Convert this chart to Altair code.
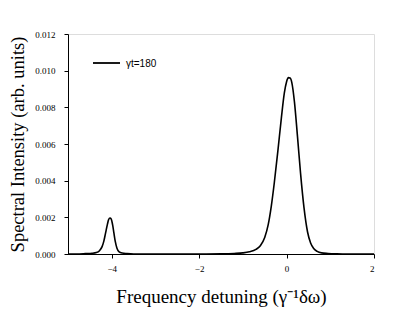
import altair as alt
import pandas as pd

# Frequency detuning values and spectral intensity
detuning = [-5.0, -4.8, -4.6, -4.45, -4.35, -4.28, -4.22, -4.18, -4.14, -4.10, -4.07, -4.04,
            -4.01, -3.98, -3.95, -3.92, -3.88, -3.83, -3.76, -3.65, -3.5, -3.0, -2.5, -2.0,
            -1.5, -1.2, -1.0, -0.85, -0.7, -0.6, -0.5, -0.42, -0.35, -0.28, -0.2, -0.12, -0.05,
            0.0, 0.04, 0.08, 0.12, 0.18, 0.25, 0.32, 0.4, 0.48, 0.55, 0.62, 0.7, 0.8, 0.95,
            1.15, 1.4, 1.7, 2.0]
intensity = [0.0, 0.0, 0.00002, 0.00004, 0.00008, 0.00018, 0.00040, 0.00070, 0.00115, 0.00160,
             0.00188, 0.00196, 0.00190, 0.00160, 0.00115, 0.00070, 0.00032, 0.00012, 0.00005,
             0.00002, 0.0, 0.0, 0.0, 0.0,
             0.00001, 0.00003, 0.00006, 0.00012, 0.00025, 0.00045, 0.00090, 0.00160, 0.00260,
             0.00390, 0.00560, 0.00740, 0.00880, 0.00940, 0.00962, 0.00960, 0.00935, 0.00830,
             0.00640, 0.00440, 0.00250, 0.00120, 0.00060, 0.00030, 0.00014, 0.00006, 0.00003,
             0.00001, 0.0, 0.0, 0.0]

x_ticks = [-4, -2, 0, 2]
y_ticks = [0.0, 0.002, 0.004, 0.006, 0.008, 0.010, 0.012]
legend_label = "γt=180"

df = pd.DataFrame({"x": detuning, "y": intensity})

line = alt.Chart(df).mark_line(color="black", strokeWidth=1.6, interpolate="monotone").encode(
    x=alt.X("x:Q", scale=alt.Scale(domain=[-5, 2], nice=False, zero=False),
            axis=alt.Axis(values=x_ticks, format="d", title="Frequency detuning (γ⁻¹δω)",
                          titleFont="Liberation Serif", titleFontSize=19, titleFontWeight="normal",
                          titleColor="black", titlePadding=14,
                          labelFont="Liberation Serif", labelFontSize=9, labelColor="black",
                          labelPadding=6, tickSize=4, tickColor="black", domainColor="black",
                          grid=False)),
    y=alt.Y("y:Q", scale=alt.Scale(domain=[0, 0.012], nice=False),
            axis=alt.Axis(values=y_ticks, format=".3f", title="Spectral Intensity (arb. units)",
                          titleFont="Liberation Serif", titleFontSize=18.5, titleFontWeight="normal",
                          titleColor="black", titlePadding=7,
                          labelFont="Liberation Serif", labelFontSize=9, labelColor="black",
                          labelPadding=9, tickSize=4, tickColor="black", domainColor="black",
                          grid=False)),
)

leg_df = pd.DataFrame({"label": [legend_label]})
leg_line = alt.Chart(leg_df).mark_rule(color="black", strokeWidth=1.8).encode(
    x=alt.value(25), x2=alt.value(52), y=alt.value(29)
)
leg_text = alt.Chart(leg_df).mark_text(align="left", baseline="middle", font="Liberation Sans",
                                       fontSize=10, color="black").encode(
    x=alt.value(58), y=alt.value(30), text="label:N"
)

chart = alt.layer(line, leg_line, leg_text).properties(
    width=306, height=220,
    autosize=alt.AutoSizeParams(type="none"),
    padding={"left": 60, "top": 26, "right": 32, "bottom": 58},
).configure_view(stroke="black", strokeWidth=1).configure(background="white")

chart.save("out.html", embed_options={"renderer": "svg", "actions": False})
